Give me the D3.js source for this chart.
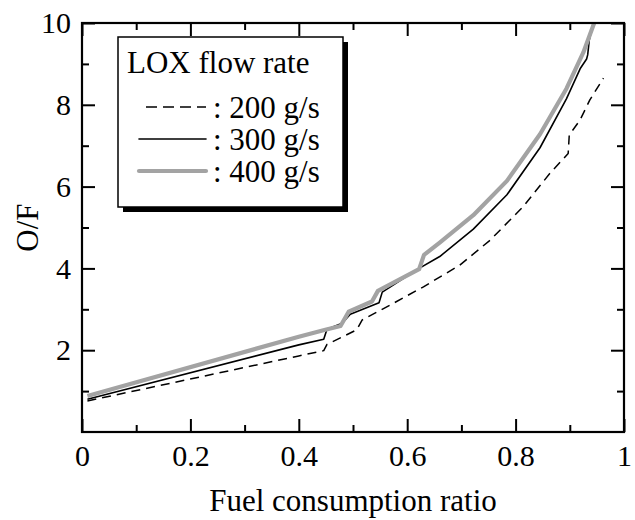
<!DOCTYPE html>
<html>
<head>
<meta charset="utf-8">
<script src="https://cdn.jsdelivr.net/npm/d3@7"></script>
<style>
  body { margin: 0; background: #fff; }
  text { font-family: "Liberation Serif", "Times New Roman", serif; fill: #000; }
</style>
</head>
<body>
<script>
// O/F vs fuel consumption ratio
var lox200 = [[0.01,0.76],[0.40,1.86],[0.446,1.99],[0.452,2.14],[0.507,2.50],[0.517,2.74],
    [0.568,3.10],[0.630,3.55],[0.697,4.08],[0.753,4.69],[0.814,5.51],[0.863,6.32],
    [0.897,6.81],[0.899,7.26],[0.919,7.63],[0.937,8.12],[0.962,8.65]];
var lox300 = [[0.01,0.80],[0.40,2.13],[0.446,2.27],[0.452,2.51],[0.480,2.66],[0.495,2.88],
    [0.548,3.16],[0.554,3.42],[0.622,4.00],[0.660,4.29],[0.722,4.96],[0.784,5.80],
    [0.845,6.95],[0.894,8.15],[0.919,8.88],[0.931,9.12],[0.933,9.22],[0.936,9.59],[0.943,10.0]];
var lox400 = [[0.01,0.88],[0.40,2.33],[0.449,2.50],[0.477,2.59],[0.492,2.94],[0.535,3.19],
    [0.546,3.45],[0.622,3.98],[0.631,4.33],[0.660,4.63],[0.722,5.30],[0.784,6.14],
    [0.845,7.28],[0.894,8.40],[0.925,9.28],[0.945,10.0]];

var xTicks = [0, 0.2, 0.4, 0.6, 0.8, 1];
var xTickLabels = ["0", "0.2", "0.4", "0.6", "0.8", "1"];
var yTicks = [2, 4, 6, 8, 10];
var legendTitle = "LOX flow rate";
var legendLabels = [": 200 g/s", ": 300 g/s", ": 400 g/s"];

var W = 635, H = 520;
var mLeft = 82, mRight = 624, mTop = 23, mBottom = 432;

var svg = d3.select("body")
    .append("svg")
    .attr("width", W)
    .attr("height", H);

var x = d3.scaleLinear().domain([0, 1]).range([mLeft, mRight]);
var y = d3.scaleLinear().domain([0, 10]).range([mBottom, mTop]);

var line = d3.line()
    .x(d => x(d[0]))
    .y(d => y(d[1]));

var series = [
    { data: lox200, stroke: "#000", width: 1.5, dash: "9,6" },
    { data: lox300, stroke: "#000", width: 1.6, dash: null },
    { data: lox400, stroke: "#a3a3a3", width: 4.2, dash: null }
];

svg.selectAll(".curve")
    .data(series)
    .enter()
    .append("path")
    .attr("class", "curve")
    .attr("d", d => line(d.data))
    .attr("fill", "none")
    .attr("stroke", d => d.stroke)
    .attr("stroke-width", d => d.width)
    .attr("stroke-dasharray", d => d.dash)
    .attr("stroke-linejoin", "round");

// axes with inward ticks on all sides
var xMinor = d3.range(1, 10, 2).map(i => i / 10);
var yMinor = d3.range(1, 10, 2);

function styleAxis(g) {
    g.select(".domain").remove();
    g.selectAll(".tick line").attr("stroke", "#000").attr("stroke-width", 2);
    g.selectAll(".tick text")
        .style("font-family", '"Liberation Serif", "Times New Roman", serif')
        .style("font-size", "30px");
}

svg.append("g")
    .attr("transform", "translate(0," + mBottom + ")")
    .call(d3.axisBottom(x).tickValues(xTicks).tickSize(-13).tickPadding(13)
        .tickFormat((d, i) => xTickLabels[i]))
    .call(styleAxis);
svg.append("g")
    .attr("transform", "translate(0," + mBottom + ")")
    .call(d3.axisBottom(x).tickValues(xMinor).tickSize(-7).tickFormat(""))
    .call(styleAxis);
svg.append("g")
    .attr("transform", "translate(0," + mTop + ")")
    .call(d3.axisTop(x).tickValues(xTicks).tickSize(-13).tickFormat(""))
    .call(styleAxis);
svg.append("g")
    .attr("transform", "translate(0," + mTop + ")")
    .call(d3.axisTop(x).tickValues(xMinor).tickSize(-7).tickFormat(""))
    .call(styleAxis);

svg.append("g")
    .attr("transform", "translate(" + mLeft + ",0)")
    .call(d3.axisLeft(y).tickValues(yTicks).tickSize(-13).tickPadding(11))
    .call(styleAxis);
svg.append("g")
    .attr("transform", "translate(" + mLeft + ",0)")
    .call(d3.axisLeft(y).tickValues(yMinor).tickSize(-7).tickFormat(""))
    .call(styleAxis);
svg.append("g")
    .attr("transform", "translate(" + mRight + ",0)")
    .call(d3.axisRight(y).tickValues(yTicks).tickSize(-13).tickFormat(""))
    .call(styleAxis);
svg.append("g")
    .attr("transform", "translate(" + mRight + ",0)")
    .call(d3.axisRight(y).tickValues(yMinor).tickSize(-7).tickFormat(""))
    .call(styleAxis);

svg.append("rect")
    .attr("x", mLeft)
    .attr("y", mTop)
    .attr("width", mRight - mLeft)
    .attr("height", mBottom - mTop)
    .attr("fill", "none")
    .attr("stroke", "#000")
    .attr("stroke-width", 2.2);

// axis titles
svg.append("text")
    .attr("x", (mLeft + mRight) / 2)
    .attr("y", 511)
    .attr("text-anchor", "middle")
    .style("font-size", "31px")
    .text("Fuel consumption ratio");

svg.append("text")
    .attr("transform", "translate(38," + (mTop + mBottom) / 2 + ") rotate(-90)")
    .attr("text-anchor", "middle")
    .style("font-size", "31px")
    .text("O/F");

// legend with drop shadow
var lg = svg.append("g");
lg.append("rect")
    .attr("x", 123).attr("y", 42)
    .attr("width", 225).attr("height", 170)
    .attr("fill", "#000");
lg.append("rect")
    .attr("x", 118).attr("y", 37)
    .attr("width", 225).attr("height", 170)
    .attr("fill", "#fff")
    .attr("stroke", "#000")
    .attr("stroke-width", 1.5);
lg.append("text")
    .attr("x", 127).attr("y", 73)
    .style("font-size", "31px")
    .text(legendTitle);

var legendSeries = series.map((s, i) => ({ s: s, label: legendLabels[i], i: i }));
var rows = lg.selectAll(".row")
    .data(legendSeries)
    .enter()
    .append("g")
    .attr("class", "row")
    .attr("transform", d => "translate(0," + (d.i * 32) + ")");
rows.append("line")
    .attr("x1", d => d.s.dash ? 146 : 139)
    .attr("x2", 206)
    .attr("y1", 107)
    .attr("y2", 107)
    .attr("stroke", d => d.s.stroke)
    .attr("stroke-width", d => d.s.width)
    .attr("stroke-dasharray", d => d.s.dash ? "11,6" : null)
    .attr("stroke-linecap", d => d.s.dash ? "butt" : "round");
rows.append("text")
    .attr("x", 213)
    .attr("y", 118)
    .style("font-size", "31px")
    .text(d => d.label);
</script>
</body>
</html>
